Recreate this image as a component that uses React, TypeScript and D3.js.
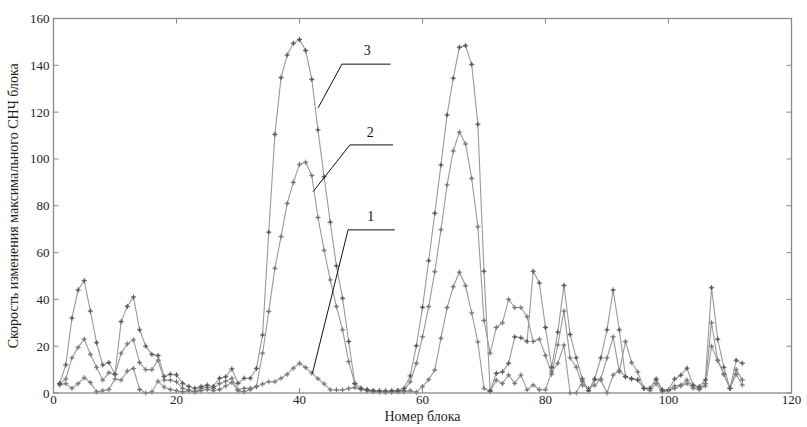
import React from "react";
import * as d3 from "d3";

const curve1: number[] = [
  3.4, 4, 2, 4, 6.5, 4.5, 0.5, 1, 1.5, 6,
  5.5, 9.4, 10.5, 1.5, 0, 0.5, 5, 2.5, 1.5, 1,
  0.5, 1, 0.5, 1, 1.5, 1, 1.5, 3, 4.5, 1,
  0.5, 1.5, 2.7, 3.8, 4.8, 4.8, 6.3, 8, 10.6, 12.7,
  10.9, 8.5, 6.1, 3.9, 1.4, 1.3, 1.3, 1.9, 2.3, 1.5,
  1, 0.5, 0.5, 0.3, 0.5, 0.5, 0.5, 1, 0.3, 2.7,
  5.7, 9.8, 23.4, 36.5, 45.4, 51.6, 45.8, 34.2, 21.8, 2,
  0.6, 5.5, 4, 7.7, 4.1, 7.7, 1.3, 3.4, 1.4, 1.4,
  9, 12.7, 20.5, 0, 0, 5, 1, 5.6, 5.6, 0,
  7.7, 9.7, 6.9, 6.2, 5.6, 2, 1, 4, 0.5, 1,
  2, 3, 4, 2, 1.5, 3, 20, 14, 8, 2,
  8, 3.4,
];

const curve2: number[] = [
  4, 6, 15, 19.5, 23, 16.5, 11, 5.5, 8.7, 8,
  17, 21, 22.7, 13, 10, 10, 14, 5.5, 5.5, 4.8,
  2, 1.3, 0.5, 2, 2.5, 2, 4, 5, 6.3, 1.4,
  2, 2, 2.8, 17, 34.8, 53.3, 66.8, 81, 90, 97.7,
  98.6, 92.9, 75, 61, 48.3, 37, 27, 13.4, 4, 2,
  1, 1, 0.5, 1, 0.5, 1, 1, 4.8, 12.7, 24,
  36.9, 51.8, 69.7, 88.9, 103.4, 111.4, 106.4, 91.7, 71, 31,
  17, 28, 30, 40, 36.5, 36.5, 32.6, 22, 23, 16,
  8, 20.5, 35, 15, 11, 3.3, 2, 3.3, 6, 15,
  24, 9, 22, 13, 9, 2, 2, 5.6, 1.3, 1.3,
  3, 3.4, 5.6, 3, 2, 4, 30, 14, 8, 2,
  10, 5.6,
];

const curve3: number[] = [
  4, 12, 32, 44, 48, 35, 21.5, 12, 13, 8,
  30.5, 37, 41, 27, 20, 16.5, 16, 7, 8, 7.7,
  4.1, 2.8, 2, 2.8, 3.4, 2.8, 6.3, 6.9, 10.3, 4.1,
  6.3, 6.3, 10.5, 24.8, 68.7, 110.5, 134.7, 144.4, 149.4, 151,
  146.3, 134, 112.4, 92.4, 73, 54.3, 40.5, 22, 4, 2,
  1.5, 1, 1, 0.5, 1, 1, 2, 7.3, 20.2, 36.6,
  56.5, 76.8, 97.4, 118.8, 134.5, 147.7, 148.4, 140.4, 114.8, 52,
  1, 8.4, 9, 12.7, 24, 23.6, 22, 52, 47, 28,
  11, 26, 46, 25, 15, 6, 1, 6, 15, 27,
  44, 27, 7, 6, 5.6, 2, 2, 6, 1.3, 1.3,
  6, 7.6, 10.6, 3.4, 2.7, 5.6, 45, 23, 11, 2,
  14, 12.7,
];

const xTicks: number[] = [0, 20, 40, 60, 80, 100, 120];
const yTicks: number[] = [0, 20, 40, 60, 80, 100, 120, 140, 160];

const labelNames: string[] = ["1", "2", "3"];
// leader lines in data units: tip (on curve), elbow, end of horizontal, text position
const labelTipX: number[] = [42.1, 42.2, 43];
const labelTipY: number[] = [8.4, 86, 121.7];
const labelElbowX: number[] = [47.9, 48.2, 46.9];
const labelElbowY: number[] = [69.7, 106, 140.5];
const labelEndX: number[] = [55.5, 55.2, 54.8];
const labelTextX: number[] = [51.6, 51.5, 51];
const labelTextY: number[] = [73.5, 109.5, 144.5];

const xLabel = "Номер блока";
const yLabel = "Скорость изменения максимального СНЧ блока";

const W = 807;
const H = 427;
const M = { left: 53.5, right: 791.5, top: 18.5, bottom: 393 };

export default function App() {
  const x = d3.scaleLinear().domain([0, 120]).range([M.left, M.right]);
  const y = d3.scaleLinear().domain([0, 160]).range([M.bottom, M.top]);
  const series = [curve1, curve2, curve3];
  const line = d3
    .line<number>()
    .x((_, i) => x(i + 1))
    .y((d) => y(d));

  const star = (cx: number, cy: number) => {
    const r = 2.6;
    const s = 1.1;
    return `M${cx - r},${cy}L${cx + r},${cy}M${cx},${cy - r}L${cx},${cy + r}M${cx - s},${cy - s}L${cx + s},${cy + s}M${cx - s},${cy + s}L${cx + s},${cy - s}`;
  };

  const tickLen = 5;
  const font = "'Liberation Serif', 'Times New Roman', serif";

  return (
    <svg
      width={W}
      height={H}
      style={{ position: "absolute", left: 0, top: 0, background: "#fff" }}
      fontFamily={font}
    >
      <rect x={0} y={0} width={W} height={H} fill="#fff" />
      {series.map((s, k) => (
        <path key={"l" + k} d={line(s) || ""} fill="none" stroke="#9a9a9a" strokeWidth={1.1} />
      ))}
      {series.map((s, k) => (
        <path
          key={"m" + k}
          d={s.map((v, i) => star(x(i + 1), y(v))).join("")}
          fill="none"
          stroke={k === 2 ? "#555" : "#777"}
          strokeWidth={1}
        />
      ))}
      <rect
        x={M.left}
        y={M.top}
        width={M.right - M.left}
        height={M.bottom - M.top}
        fill="none"
        stroke="#8a8a8a"
        strokeWidth={1.3}
      />
      {xTicks.map((t) => (
        <g key={"xt" + t}>
          <line x1={x(t)} x2={x(t)} y1={M.bottom} y2={M.bottom - tickLen} stroke="#8a8a8a" />
          <line x1={x(t)} x2={x(t)} y1={M.top} y2={M.top + tickLen} stroke="#8a8a8a" />
          <text x={x(t)} y={M.bottom + 11} textAnchor="middle" fontSize={13} fill="#222">
            {t}
          </text>
        </g>
      ))}
      {yTicks.map((t) => (
        <g key={"yt" + t}>
          <line x1={M.left} x2={M.left + tickLen} y1={y(t)} y2={y(t)} stroke="#8a8a8a" />
          <line x1={M.right} x2={M.right - tickLen} y1={y(t)} y2={y(t)} stroke="#8a8a8a" />
          <text x={M.left - 4} y={y(t) + 4.5} textAnchor="end" fontSize={13} fill="#222">
            {t}
          </text>
        </g>
      ))}
      <text x={(M.left + M.right) / 2} y={421} textAnchor="middle" fontSize={14} fill="#222">
        {xLabel}
      </text>
      <text
        transform={`translate(18,${(M.top + M.bottom) / 2}) rotate(-90)`}
        textAnchor="middle"
        fontSize={14}
        fill="#222"
      >
        {yLabel}
      </text>
      {labelNames.map((n, i) => (
        <g key={"a" + n}>
          <polyline
            points={`${x(labelTipX[i])},${y(labelTipY[i])} ${x(labelElbowX[i])},${y(labelElbowY[i])} ${x(labelEndX[i])},${y(labelElbowY[i])}`}
            fill="none"
            stroke="#111"
            strokeWidth={1}
          />
          <text x={x(labelTextX[i])} y={y(labelTextY[i])} textAnchor="middle" fontSize={14} fill="#111">
            {n}
          </text>
        </g>
      ))}
    </svg>
  );
}
